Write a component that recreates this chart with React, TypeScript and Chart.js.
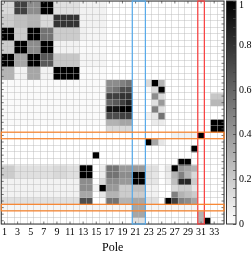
import React, { useEffect, useRef } from 'react';
import { Chart, registerables } from 'chart.js';
Chart.register(...registerables);

const poles = ['1','2','3','4','5','6','7','8','9','10','11','12','13','14','15','16','17','18','19','20','21','22','23','24','25','26','27','28','29','30','31','32','33','34'];
const colorbarLabels = [0, 0.2, 0.4, 0.6, 0.8, 1];

const r01 = [0.15,0.15,0.75,0.75,0.45,0.45,1,1,0.12,0.12,0.12,0.12,0.05,0.05,0.05,0.05,0,0,0,0,0,0,0,0,0,0,0,0,0,0,0,0,0,0];
const r02 = [0.15,0.15,0.75,0.75,0.45,0.45,1,1,0.12,0.12,0.12,0.12,0.05,0.05,0.05,0.05,0,0,0,0,0,0,0,0,0,0,0,0,0,0,0,0,0,0];
const r03 = [0.2,0.2,0.25,0.25,0.3,0.3,0.15,0.15,0.8,0.8,0.8,0.8,0.05,0.05,0.05,0.05,0,0,0,0,0,0,0,0,0,0,0,0,0,0,0,0,0,0];
const r04 = [0.2,0.2,0.25,0.25,0.3,0.3,0.15,0.15,0.8,0.8,0.8,0.8,0.05,0.05,0.05,0.05,0,0,0,0,0,0,0,0,0,0,0,0,0,0,0,0,0,0];
const r05 = [1,1,0.2,0.2,1,1,0.55,0.55,0.2,0.2,0.2,0.2,0.06,0.04,0.04,0.04,0,0,0,0,0,0,0,0,0,0,0,0,0,0,0,0,0,0];
const r06 = [1,1,0.2,0.2,1,1,0.55,0.55,0.2,0.2,0.2,0.2,0.06,0.04,0.04,0.04,0,0,0,0,0,0,0,0,0,0,0,0,0,0,0,0,0,0];
const r07 = [0.2,0.2,1,1,0.45,0.45,1,1,0.05,0.05,0.05,0.05,0.02,0.02,0.02,0.02,0,0,0,0,0,0,0,0,0,0,0,0,0,0,0,0,0,0];
const r08 = [0.2,0.2,1,1,0.45,0.45,1,1,0.05,0.05,0.05,0.05,0.02,0.02,0.02,0.02,0,0,0,0,0,0,0,0,0,0,0,0,0,0,0,0,0,0];
const r09 = [1,1,0.35,0.35,1,1,0.65,0.65,0.22,0.22,0.22,0.22,0.04,0.04,0.04,0.04,0,0,0,0,0,0,0,0,0,0,0,0,0,0,0,0,0,0];
const r10 = [1,1,0.35,0.35,1,1,0.65,0.65,0.22,0.22,0.22,0.22,0.04,0.04,0.04,0.04,0,0,0,0,0,0,0,0,0,0,0,0,0,0,0,0,0,0];
const r11 = [0.3,0.3,0.05,0.05,0.35,0.35,0.05,0.05,1,1,1,1,0.02,0.02,0.02,0.02,0,0,0,0,0,0,0,0,0,0,0,0,0,0,0,0,0,0];
const r12 = [0.3,0.3,0.05,0.05,0.35,0.35,0.05,0.05,1,1,1,1,0.02,0.02,0.02,0.02,0,0,0,0,0,0,0,0,0,0,0,0,0,0,0,0,0,0];
const r13 = [0.02,0.02,0.02,0.02,0.02,0.02,0.02,0.02,0.02,0.02,0.02,0.02,0.02,0.02,0.02,0.02,0.45,0.45,0.5,0.55,0,0,0.15,1,0.3,0,0,0,0,0,0,0,0,0];
const r14 = [0.02,0.02,0.02,0.02,0.02,0.02,0.02,0.02,0.02,0.02,0.02,0.02,0.02,0.02,0.02,0.02,0.5,0.55,0.7,0.7,0,0,0.02,0.15,1,0,0,0,0,0,0,0,0,0];
const r15 = [0.02,0.02,0.02,0.02,0.02,0.02,0.02,0.02,0.02,0.02,0.02,0.02,0.02,0.02,0.02,0.02,0.75,0.75,0.8,0.8,0,0,0,0.45,0.15,0,0,0,0,0,0,0,0.22,0.22];
const r16 = [0.02,0.02,0.02,0.02,0.02,0.02,0.02,0.02,0.02,0.02,0.02,0.02,0.02,0.02,0.02,0.02,0.6,0.65,0.75,0.85,0,0,0,0.12,0.4,0,0,0,0,0,0,0,0.28,0.28];
const r17 = [0.02,0.02,0.02,0.02,0.02,0.02,0.02,0.02,0.02,0.02,0.02,0.02,0.02,0.02,0.02,0.02,0.92,0.92,1,1,0,0,0,0.5,0.12,0,0,0,0,0,0,0,0,0];
const r18 = [0.02,0.02,0.02,0.02,0.02,0.02,0.02,0.02,0.02,0.02,0.02,0.02,0.02,0.02,0.02,0.02,0.7,0.7,0.75,0.75,0,0,0.05,0.1,0.55,0,0,0,0,0,0,0,0,0];
const r19 = [0.02,0.02,0.02,0.02,0.02,0.02,0.02,0.02,0.02,0.02,0.02,0.02,0.02,0.02,0.02,0.02,0.3,0.3,0.35,0.35,0,0,0,0.08,0.08,0,0,0,0,0,0,0,1,1];
const r20 = [0,0,0,0,0,0,0,0,0,0,0,0,0,0,0,0,0.15,0.15,0.15,0.15,0,0,0,0,0,0,0,0,0,0,0,0,1,1];
const r21 = [0,0,0,0,0,0,0,0,0,0,0,0,0,0,0,0,0,0,0,0,0,0,0,0,0,0,0.05,0.05,0.05,0.05,1,0,0,0];
const r22 = [0,0,0,0,0,0,0,0,0,0,0,0,0,0,0,0,0,0,0,0,0,0,1,0.35,0.1,0,0,0,0,0,0,0,0,0];
const r23 = [0,0,0,0,0,0,0,0,0,0,0,0,0,0,0,0,0,0,0,0,0,0,0,0,0,0,0,0,0,1,0,0,0,0];
const r24 = [0,0,0,0,0,0,0,0,0,0,0,0,0,0,1,0,0,0,0,0,0,0,0,0,0,0,0,0,0,0,0,0,0,0];
const r25 = [0,0,0,0,0,0,0,0,0,0,0,0,0,0,0,0,0,0,0,0,0,0,0,0,0,0,0,1,1,0,0,0,0,0];
const r26 = [0.2,0.2,0.12,0.12,0.12,0.12,0.12,0.12,0.15,0.15,0.12,0.12,1,1,0,0.08,0.55,0.55,0.4,0.4,0.4,0.4,0.12,0.12,0.02,0.1,1,0.4,0.35,0.3,0,0,0,0];
const r27 = [0.2,0.2,0.12,0.12,0.12,0.12,0.12,0.12,0.15,0.15,0.12,0.12,1,1,0,0.08,0.55,0.55,0.45,0.45,1,1,0.12,0.1,0.02,0.08,0.3,0.5,0.3,0.15,0,0,0,0];
const r28 = [0.05,0.05,0.05,0.05,0.05,0.05,0.05,0.05,0.05,0.05,0.05,0.05,0.45,0.45,0,0.15,0.45,0.45,0.4,0.4,1,1,0.1,0.1,0,0.05,0.25,0.85,0.85,0.2,0,0,0,0];
const r29 = [0.05,0.05,0.05,0.05,0.05,0.05,0.05,0.05,0.05,0.05,0.05,0.05,0.45,0.45,0.05,1,0.4,0.4,0.2,0.2,0.25,0.25,0.05,0.05,0,0,0.15,0.2,0.2,0.1,0,0,0,0];
const r30 = [0.05,0.05,0.05,0.05,0.05,0.05,0.05,0.05,0.05,0.05,0.05,0.05,0.35,0.35,0,0.1,0.3,0.3,0.2,0.2,0.2,0.2,0.05,0.05,0,0,0.5,0.3,0.25,0.2,0,0,0,0];
const r31 = [0.12,0.12,0.12,0.12,0.12,0.12,0.12,0.12,0.12,0.12,0.12,0.12,0.7,0.7,0,0.02,0.55,0.55,0.3,0.3,0.35,0.35,0.12,0.12,0,1,0.75,0.5,0.45,0.35,0,0,0,0];
const r32 = [0.04,0.04,0.04,0.04,0.04,0.04,0.04,0.04,0.04,0.04,0.04,0.04,0.04,0.04,0.04,0.04,0.04,0.04,0.04,0.04,0.35,0.35,0.04,0.04,0.04,0.04,0.04,0.04,0.04,0.04,0,0,0,0];
const r33 = [0,0,0,0,0,0,0,0,0,0,0,0,0,0,0,0,0,0,0,0,0.35,0.35,0,0,0,0,0,0,0,0,0.3,0,0,0];
const r34 = [0,0,0,0,0,0,0,0,0,0,0,0,0,0,0,0,0,0,0,0,0.12,0.12,0,0,0,0,0,0,0,0,0.3,1,0,0];

const matrix = [r01,r02,r03,r04,r05,r06,r07,r08,r09,r10,r11,r12,r13,r14,r15,r16,r17,r18,r19,r20,r21,r22,r23,r24,r25,r26,r27,r28,r29,r30,r31,r32,r33,r34];

// highlighted boxes (1-based pole indices)
const blueCols = [21, 22];
const redCols = [31, 31];
const orangeRows = [21, 32];

const FONT = "'Liberation Serif', 'DejaVu Serif', serif";

function grey(v: number) {
  const g = Math.round(255 * (1 - v));
  return `rgb(${g},${g},${g})`;
}

export default function App() {
  const mainRef = useRef<HTMLCanvasElement>(null);
  const cbRef = useRef<HTMLCanvasElement>(null);

  useEffect(() => {
    const datasets = matrix.map((row, r) => ({
      data: row.map(() => [r, r + 1]),
      backgroundColor: row.map(grey),
      borderWidth: 0,
      grouped: false,
      barPercentage: 1,
      categoryPercentage: 1,
    }));

    const overlay = {
      id: 'overlay',
      afterDraw(chart: any) {
        const { ctx, chartArea: a, scales } = chart;
        const xs = scales.x, ys = scales.y;
        const half = (xs.getPixelForValue(1) - xs.getPixelForValue(0)) / 2;
        ctx.save();
        // inward tick marks
        ctx.strokeStyle = '#555';
        ctx.lineWidth = 0.8;
        ctx.beginPath();
        for (let i = 0; i < poles.length; i += 2) {
          const px = xs.getPixelForValue(i);
          ctx.moveTo(px, a.top); ctx.lineTo(px, a.top + 2.5);
          ctx.moveTo(px, a.bottom); ctx.lineTo(px, a.bottom - 2.5);
        }
        for (let r = 0; r < matrix.length; r++) {
          const py = ys.getPixelForValue(r + 0.5);
          ctx.moveTo(a.left, py); ctx.lineTo(a.left + 2.5, py);
          ctx.moveTo(a.right, py); ctx.lineTo(a.right - 2.5, py);
        }
        ctx.stroke();
        // frame
        ctx.strokeStyle = '#333';
        ctx.lineWidth = 1;
        ctx.strokeRect(a.left, a.top, a.right - a.left, a.bottom - a.top);
        ctx.lineWidth = 1.2;
        // blue box
        ctx.strokeStyle = 'rgb(85,170,235)';
        let x1 = xs.getPixelForValue(blueCols[0] - 1) - half;
        let x2 = xs.getPixelForValue(blueCols[1] - 1) + half;
        ctx.strokeRect(x1, a.top, x2 - x1, a.bottom - a.top);
        // red box
        ctx.strokeStyle = 'rgb(250,60,60)';
        x1 = xs.getPixelForValue(redCols[0] - 1) - half;
        x2 = xs.getPixelForValue(redCols[1] - 1) + half;
        ctx.strokeRect(x1, a.top, x2 - x1, a.bottom - a.top);
        // orange boxes
        ctx.strokeStyle = 'rgb(250,130,40)';
        for (const row of orangeRows) {
          const y1 = ys.getPixelForValue(row - 1);
          const y2 = ys.getPixelForValue(row);
          ctx.strokeRect(a.left, y1, a.right - a.left, y2 - y1);
        }
        ctx.restore();
      },
    };

    const main = new Chart(mainRef.current!, {
      type: 'bar',
      data: { labels: poles, datasets: datasets as any },
      options: {
        animation: false,
        responsive: false,
        maintainAspectRatio: false,
        events: [],
        layout: { padding: { left: 1, top: 1, right: 28, bottom: 0 } },
        plugins: { legend: { display: false }, tooltip: { enabled: false } },
        scales: {
          x: {
            type: 'category',
            offset: true,
            grid: { offset: true, color: 'rgba(185,185,185,0.45)', lineWidth: 1, drawTicks: false, z: 1 },
            border: { display: false },
            afterFit: (s: any) => { s.height = 30; },
            ticks: {
              autoSkip: false,
              maxRotation: 0,
              padding: 2,
              color: '#000',
              font: { family: FONT, size: 10 },
              callback: (_v: any, i: number) => (i % 2 === 0 ? poles[i] : ''),
            },
            title: { display: true, text: 'Pole', color: '#000', font: { family: FONT, size: 12, lineHeight: 1 }, padding: { top: 0, bottom: 0 } },
          },
          y: {
            type: 'linear',
            min: 0,
            max: 34,
            reverse: true,
            afterFit: (s: any) => { s.width = 0; },
            grid: { color: 'rgba(185,185,185,0.45)', lineWidth: 1, drawTicks: false, z: 1 },
            border: { display: false },
            ticks: { display: false, stepSize: 1, maxTicksLimit: 100 },
          },
        },
      },
      plugins: [overlay],
    });

    const cbFrame = {
      id: 'cbFrame',
      afterDraw(chart: any) {
        const { ctx, chartArea: a } = chart;
        ctx.save();
        ctx.strokeStyle = '#333';
        ctx.lineWidth = 1;
        ctx.strokeRect(a.left, a.top, a.right - a.left, a.bottom - a.top);
        ctx.restore();
      },
    };

    const cb = new Chart(cbRef.current!, {
      type: 'bar',
      data: {
        labels: ['cb'],
        datasets: [{
          data: [[colorbarLabels[0], colorbarLabels[colorbarLabels.length - 1]]] as any,
          backgroundColor: (c: any) => {
            const area = c.chart.chartArea;
            if (!area) return '#888';
            const g = c.chart.ctx.createLinearGradient(0, area.bottom, 0, area.top);
            g.addColorStop(0, '#ffffff');
            g.addColorStop(1, '#000000');
            return g;
          },
          borderWidth: 0,
          barPercentage: 1,
          categoryPercentage: 1,
        }],
      },
      options: {
        animation: false,
        responsive: false,
        maintainAspectRatio: false,
        events: [],
        layout: { padding: { left: 2.5, top: 16, right: 0, bottom: 30 } },
        plugins: { legend: { display: false }, tooltip: { enabled: false } },
        scales: {
          x: { display: false },
          y: {
            position: 'right',
            min: 0,
            max: 1,
            afterFit: (s: any) => { s.width = 16; },
            grid: { display: true, drawOnChartArea: false, drawTicks: true, tickLength: -3, color: '#444', lineWidth: 0.8, z: 1 },
            border: { display: false },
            ticks: {
              stepSize: 0.04,
              maxTicksLimit: 100,
              autoSkip: false,
              padding: 6,
              color: '#000',
              font: { family: FONT, size: 10, lineHeight: 0.9 },
              callback: (v: any) => {
                const n = Number(v);
                const hit = colorbarLabels.find((l) => Math.abs(l - n) < 1e-6);
                if (hit === undefined) return '';
                if (hit === 1) return ['', '1'];
                return hit === 0 ? '0' : hit.toFixed(1);
              },
            },
          },
        },
      },
      plugins: [cbFrame],
    });

    return () => { main.destroy(); cb.destroy(); };
  }, []);

  return (
    <div style={{ position: 'fixed', left: 0, top: 0, width: 252, height: 254, overflow: 'hidden', background: '#fff' }}>
      <canvas ref={mainRef} width={252} height={254} style={{ position: 'absolute', left: 0, top: 0, width: 252, height: 254 }} />
      <canvas ref={cbRef} width={28} height={269} style={{ position: 'absolute', left: 224, top: -15, width: 28, height: 269 }} />
    </div>
  );
}
